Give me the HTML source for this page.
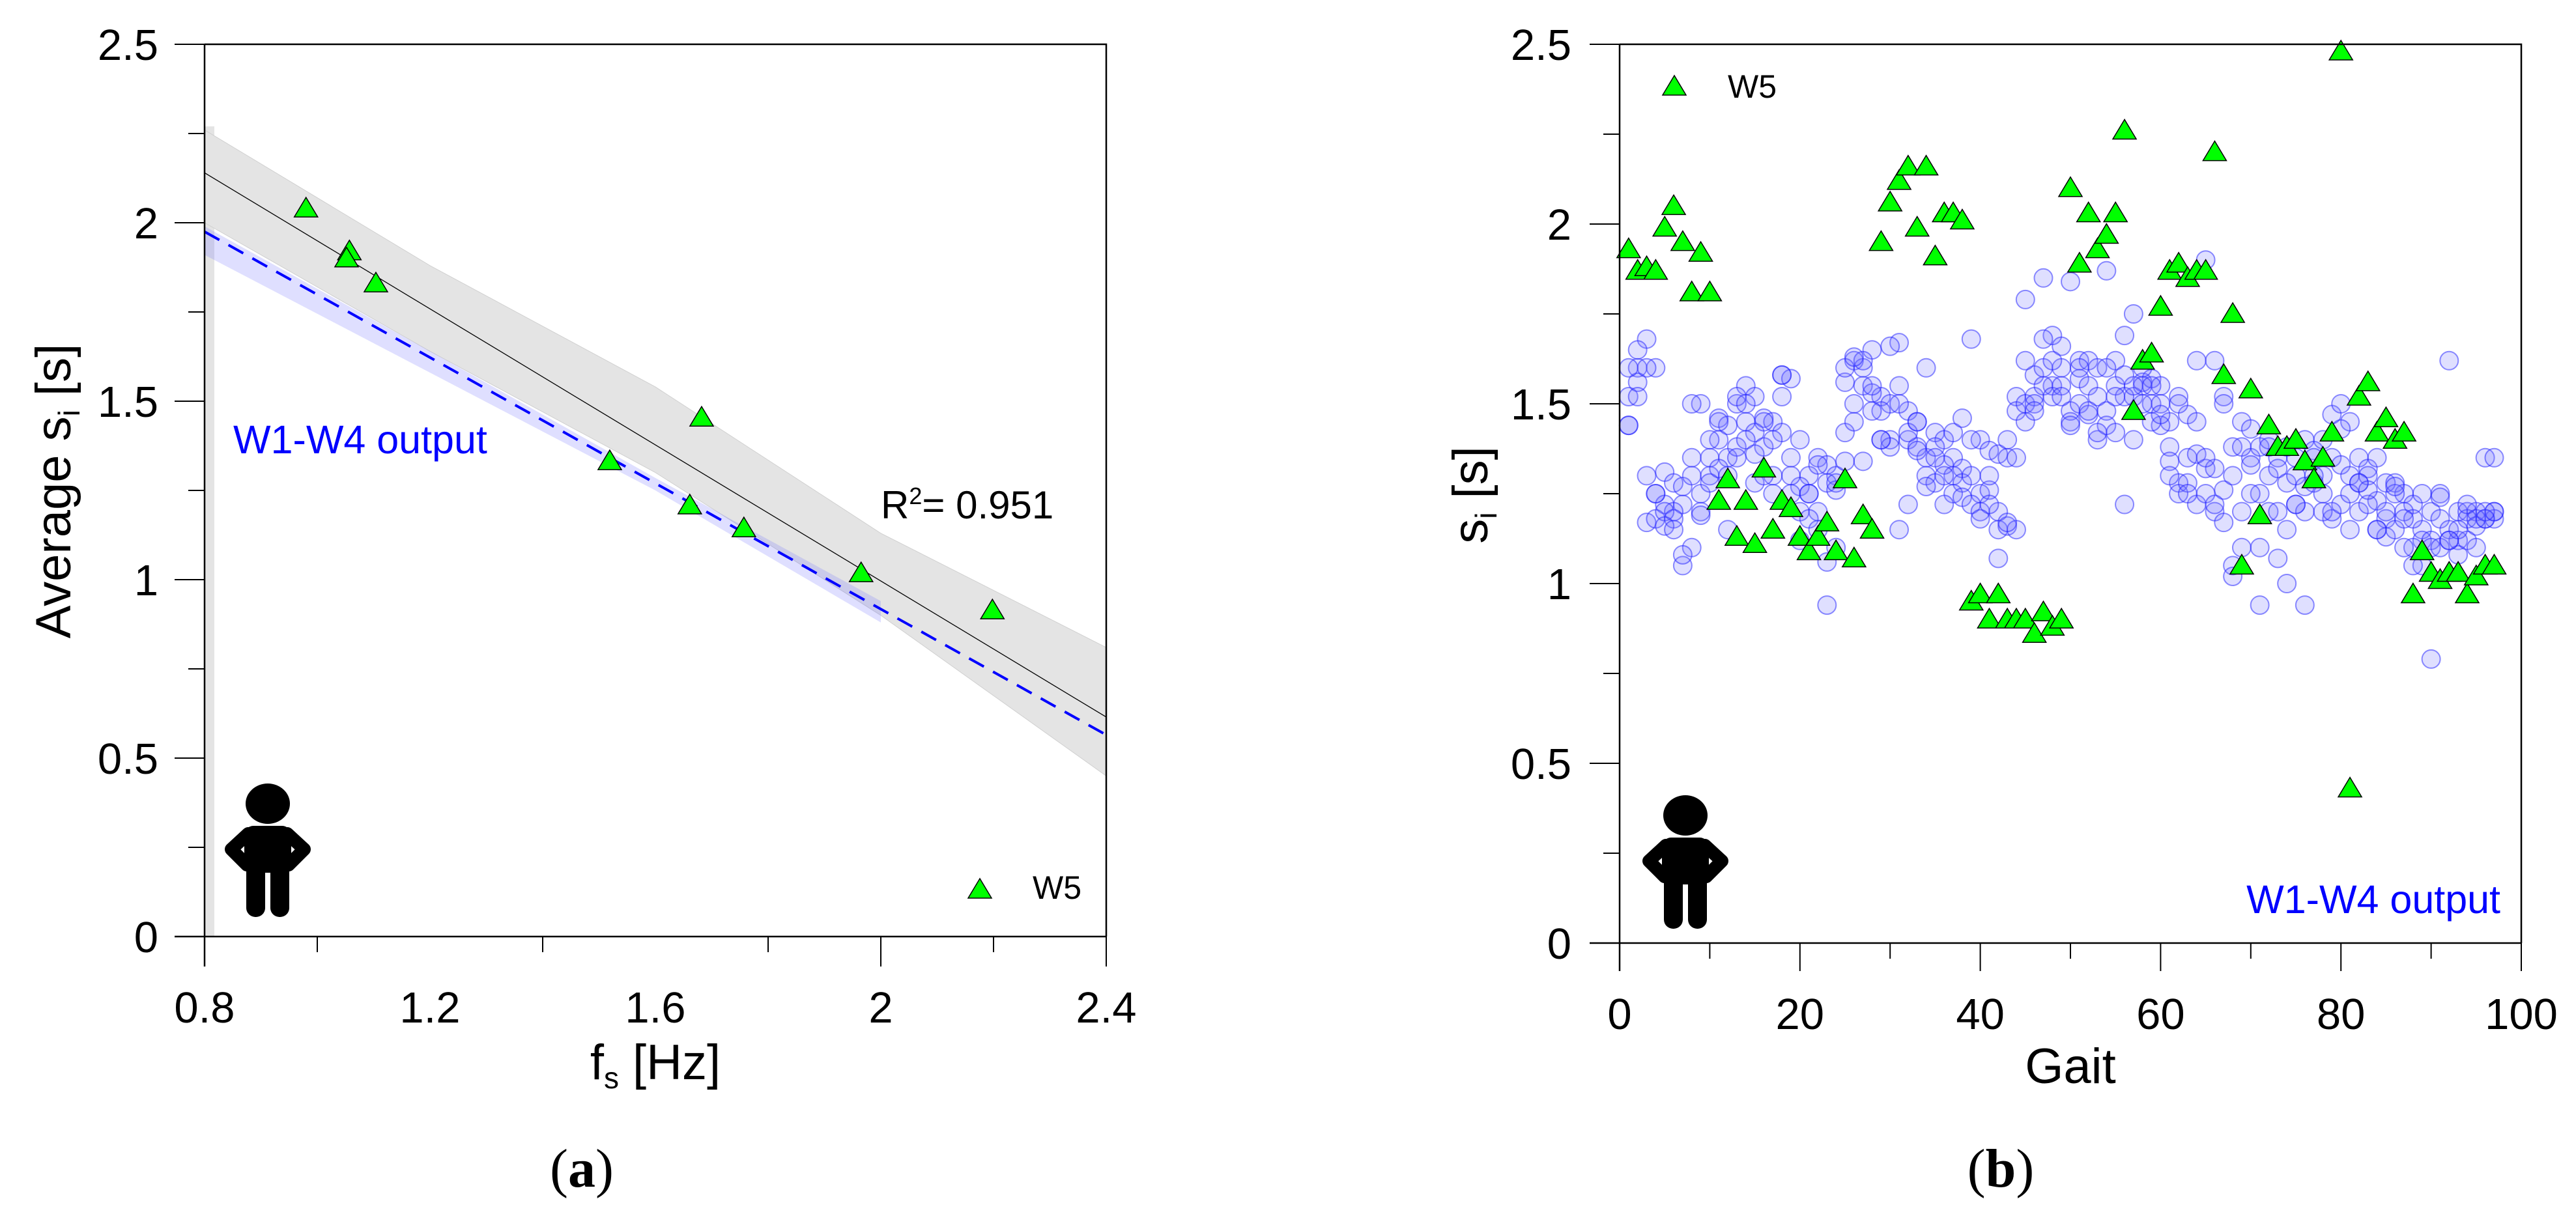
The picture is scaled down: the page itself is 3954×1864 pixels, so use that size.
<!DOCTYPE html>
<html><head><meta charset="utf-8"><style>
html,body{margin:0;padding:0;background:#fff}
svg{display:block;font-family:"Liberation Sans",Arial,sans-serif}
</style></head><body>
<svg id="fig" width="3954" height="1864" viewBox="0 0 3954 1864" xmlns="http://www.w3.org/2000/svg">
<g id="pa"></g>
<g id="pb"></g>
</svg>
<script>
// ---------- Panel (a) data ----------
const aFs = [0.98,1.057,1.052,1.104,1.519,1.682,1.661,1.757,1.965,2.198];
const aSi = [2.04,1.92,1.90,1.83,1.332,1.454,1.208,1.144,1.018,0.914];
const fitX = [0.8,2.4];
const fitY = [2.14,0.615];
const blueFitY = [1.975,0.565];
const bandX = [0.8,1.2,1.6,2.0,2.4];
const bandUpper = [2.26,1.88,1.54,1.13,0.81];
const bandLower = [2.00,1.64,1.30,0.90,0.45];
const blueBandX = [0.8,1.2,1.6,2.0];
const blueBandUpper = [1.99,1.64,1.285,0.94];
const blueBandLower = [1.91,1.58,1.25,0.88];
const aXTicks = ["0.8","1.2","1.6","2","2.4"];
const aYTicks = ["0","0.5","1","1.5","2","2.5"];
// ---------- Panel (b) data ----------
const w5 = [1.93,1.87,1.88,1.87,1.99,2.05,1.95,1.81,1.92,1.81,
1.23,1.29,1.13,1.23,1.11,1.32,1.15,1.23,1.21,1.13,
1.09,1.13,1.17,1.09,1.29,1.07,1.19,1.15,1.95,2.06,
2.12,2.16,1.99,2.16,1.91,2.03,2.03,2.01,0.95,0.97,
0.90,0.97,0.90,0.90,0.90,0.86,0.92,0.88,0.90,2.10,
1.89,2.03,1.93,1.97,2.03,2.26,1.48,1.62,1.64,1.77,
1.87,1.89,1.85,1.87,1.87,2.20,1.58,1.75,1.05,1.54,
1.19,1.44,1.38,1.38,1.40,1.34,1.29,1.35,1.42,2.48,
0.43,1.52,1.56,1.42,1.46,1.40,1.42,0.97,1.09,1.03,
1.01,1.03,1.03,0.97,1.02,1.05,1.05];
const wA = [1.52,1.60,1.68,1.60,1.31,1.28,1.22,1.35,1.50,1.35,
1.46,1.44,1.50,1.55,1.52,1.46,1.45,1.58,1.57,1.40,
1.30,1.35,1.33,1.30,1.56,1.62,1.60,1.65,1.52,1.50,
1.67,1.48,1.45,1.60,1.42,1.40,1.35,1.32,1.68,1.40,
1.37,1.36,1.40,1.52,1.79,1.58,1.85,1.69,1.66,1.84,
1.62,1.62,1.60,1.87,1.62,1.69,1.75,1.56,1.57,1.55,
1.45,1.52,1.47,1.45,1.90,1.62,1.52,1.38,1.45,1.35,
1.38,1.40,1.35,1.38,1.35,1.40,1.37,1.40,1.47,1.50,
1.45,1.35,1.32,1.35,1.28,1.28,1.25,1.22,1.15,1.20,
1.25,1.62,1.20,1.20,1.20,1.35,1.20];
const wB = [1.44,1.56,1.60,1.25,1.22,1.20,1.27,1.30,1.20,1.30,
1.40,1.35,1.38,1.45,1.42,1.38,1.30,1.52,1.35,1.27,
1.25,1.20,1.28,1.26,1.42,1.50,1.55,1.53,1.48,1.40,
1.55,1.40,1.38,1.35,1.38,1.33,1.30,1.28,1.30,1.25,
1.26,1.20,1.35,1.48,1.50,1.52,1.60,1.55,1.60,1.48,
1.57,1.55,1.52,1.48,1.55,1.58,1.52,1.55,1.50,1.44,
1.38,1.28,1.35,1.36,1.32,1.32,1.26,1.30,1.20,1.33,
1.25,1.30,1.32,1.28,1.30,1.27,1.28,1.30,1.35,1.33,
1.30,1.28,1.30,1.23,1.18,1.25,1.20,1.18,1.12,1.12,
1.18,1.15,1.12,1.18,1.16,1.18,1.18];
const wC = [1.60,1.52,1.17,1.18,1.20,1.18,1.05,1.10,1.25,1.28,
1.32,1.30,1.35,1.40,1.28,1.30,1.25,1.42,1.30,1.20,
1.18,1.15,0.94,1.10,1.34,1.45,1.62,1.48,1.40,1.38,
1.50,1.42,1.37,1.30,1.28,1.30,1.25,1.24,1.22,1.20,
1.22,1.15,1.16,1.15,1.45,1.50,1.55,1.52,1.55,1.45,
1.50,1.47,1.40,1.44,1.42,1.52,1.55,1.50,1.45,1.50,
1.34,1.25,1.28,1.22,1.25,1.20,1.17,1.05,1.10,1.25,
1.10,1.20,1.20,1.15,1.22,1.20,1.30,1.25,1.18,1.22,
1.25,1.20,1.22,1.15,1.13,1.15,1.18,1.10,1.05,1.10,
1.10,1.12,1.08,1.12,1.10,1.18,1.20];
const wD = [1.44,1.65,1.30,1.25,1.16,1.15,1.08,1.50,1.19,1.40,
1.45,1.15,1.52,1.50,1.36,1.45,1.40,1.58,1.25,1.12,
1.25,1.33,1.06,1.28,1.60,1.63,1.34,1.55,1.40,1.66,
1.15,1.22,1.45,1.27,1.35,1.22,1.42,1.46,1.40,1.18,
1.30,1.07,1.17,1.35,1.62,1.48,1.68,1.62,1.52,1.44,
1.60,1.48,1.42,1.60,1.52,1.22,1.40,1.60,1.55,1.47,
1.30,1.50,1.25,1.62,1.35,1.22,1.50,1.02,1.38,1.43,
0.94,1.38,1.07,1.00,1.22,0.94,1.35,1.20,1.20,1.43,
1.15,1.28,1.26,1.15,1.20,1.27,1.10,1.05,1.25,0.79,
1.24,1.12,1.15,1.22,1.18,1.20,1.35];
const bXTicks = ["0","20","40","60","80","100"];
const bYTicks = ["0","0.5","1","1.5","2","2.5"];

const NS="http://www.w3.org/2000/svg";
function mk(parent,tag,attrs,text){const e=document.createElementNS(NS,tag);for(const k in attrs)e.setAttribute(k,attrs[k]);if(text!==undefined)e.textContent=text;parent.appendChild(e);return e;}

const xA=v=>314+(v-0.8)/1.6*1384, yA=v=>1438-v*548;
const xB=v=>2486+v*13.84, yB=v=>1448-v*552;

function tri(parent,cx,cy,name){
  const p=mk(parent,'polygon',{points:`${cx},${cy-17} ${cx-18},${cy+13} ${cx+18},${cy+13}`,fill:'#00ff00',stroke:'#000','stroke-width':1.5});
  
  
}
function person(parent,cx,t,name){
  const g=mk(parent,'g',{fill:'#000'});
  
  
  mk(g,'ellipse',{cx:cx,cy:t+32,rx:34,ry:31});
  mk(g,'rect',{x:cx-36,y:t+66,width:72,height:72,rx:14});
  mk(g,'path',{d:`M${cx-30},${t+78} L${cx-56},${t+102} L${cx-32},${t+126} M${cx+30},${t+78} L${cx+56},${t+102} L${cx+32},${t+126}`,fill:'none',stroke:'#000','stroke-width':20,'stroke-linejoin':'round','stroke-linecap':'round'});
  mk(g,'rect',{x:cx-33,y:t+118,width:29,height:88,rx:14});
  mk(g,'rect',{x:cx+4,y:t+118,width:29,height:88,rx:14});
}

// ---------- Panel A ----------
const pa=document.getElementById('pa');
let e;
e=mk(pa,'rect',{x:314,y:yA(2.27),width:15,height:yA(0)-yA(2.27),fill:'#e4e4e4'});


let pts=bandX.map((v,i)=>`${xA(v)},${yA(bandUpper[i])}`).concat(bandX.map((v,i)=>`${xA(v)},${yA(bandLower[i])}`).reverse());
e=mk(pa,'polygon',{points:pts.join(' '),fill:'#e4e4e4',stroke:'#d0d0d0','stroke-width':1});


pts=blueBandX.map((v,i)=>`${xA(v)},${yA(blueBandUpper[i])}`).concat(blueBandX.map((v,i)=>`${xA(v)},${yA(blueBandLower[i])}`).reverse());
e=mk(pa,'polygon',{points:pts.join(' '),fill:'rgba(110,110,255,0.22)'});


e=mk(pa,'line',{x1:xA(fitX[0]),y1:yA(fitY[0]),x2:xA(fitX[1]),y2:yA(fitY[1]),stroke:'#000','stroke-width':1.3});


e=mk(pa,'line',{x1:xA(fitX[0]),y1:yA(blueFitY[0]),x2:xA(fitX[1]),y2:yA(blueFitY[1]),stroke:'#0000ff','stroke-width':4,'stroke-dasharray':'26,16'});


aFs.forEach((v,i)=>tri(pa,xA(v),yA(aSi[i]),'w5-point'));
e=mk(pa,'path',{d:`M314,68 H1698 V1438 M314,68 V1484 M268,1438 H1698`,fill:'none',stroke:'#000','stroke-width':2.5});


aYTicks.forEach((t,i)=>{
  const v=i*0.5,y=yA(v);
  mk(pa,'line',{x1:268,y1:y,x2:314,y2:y,stroke:'#000','stroke-width':2});
  if(i<5) mk(pa,'line',{x1:289,y1:yA(v+0.25),x2:314,y2:yA(v+0.25),stroke:'#000','stroke-width':2});
  e=mk(pa,'text',{x:243,y:y+24,'font-size':67,'text-anchor':'end'},t);
  
  
});
[1.0,1.4,1.8,2.2].forEach(v=>mk(pa,'line',{x1:xA(v),y1:1438,x2:xA(v),y2:1462,stroke:'#000','stroke-width':2}));
[2.0,2.4].forEach(v=>mk(pa,'line',{x1:xA(v),y1:1438,x2:xA(v),y2:1484,stroke:'#000','stroke-width':2}));
aXTicks.forEach(t=>{
  e=mk(pa,'text',{x:xA(parseFloat(t)),y:1570,'font-size':67,'text-anchor':'middle'},t);
  
  
});
e=mk(pa,'text',{x:0,y:0,'font-size':76,'text-anchor':'middle',transform:'translate(108,754) rotate(-90)'});


e.innerHTML='Average s<tspan font-size="46" dy="14">i</tspan><tspan dy="-14"> [s]</tspan>';
e=mk(pa,'text',{x:1006,y:1657,'font-size':76,'text-anchor':'middle'});


e.innerHTML='f<tspan font-size="46" dy="14">s</tspan><tspan dy="-14"> [Hz]</tspan>';
e=mk(pa,'text',{x:358,y:696,'font-size':61,fill:'#0000ff'},'W1-W4 output');


e=mk(pa,'text',{x:1352,y:796,'font-size':60});


e.innerHTML='R<tspan font-size="36" dy="-22">2</tspan><tspan dy="22">= 0.951</tspan>';
tri(pa,1504,1366,'legend-w5-marker');
e=mk(pa,'text',{x:1585,y:1380,'font-size':50},'W5');


person(pa,411,1202,'person-icon-a');
e=mk(pa,'text',{x:893,y:1822,'font-size':84,'text-anchor':'middle','font-family':'Liberation Serif, serif'});


e.innerHTML='(<tspan font-weight="bold">a</tspan>)';

// ---------- Panel B ----------
const pb=document.getElementById('pb');
[wA,wB,wC,wD].forEach(arr=>arr.forEach((v,i)=>{
  const c=mk(pb,'circle',{cx:xB(i+1),cy:yB(v),r:14,fill:'rgba(110,110,255,0.22)',stroke:'rgba(30,30,255,0.5)','stroke-width':2});
  
  
}));
w5.forEach((v,i)=>tri(pb,xB(i+1),yB(v),'w5-point'));
e=mk(pb,'path',{d:`M2486,68 H3870 V1448 M2486,68 V1491 M2440,1448 H3870`,fill:'none',stroke:'#000','stroke-width':2.5});


bYTicks.forEach((t,i)=>{
  const v=i*0.5,y=yB(v);
  mk(pb,'line',{x1:2440,y1:y,x2:2486,y2:y,stroke:'#000','stroke-width':2});
  if(i<5) mk(pb,'line',{x1:2461,y1:yB(v+0.25),x2:2486,y2:yB(v+0.25),stroke:'#000','stroke-width':2});
  e=mk(pb,'text',{x:2412,y:y+24,'font-size':67,'text-anchor':'end'},t);
  
  
});
[10,30,50,70,90].forEach(v=>mk(pb,'line',{x1:xB(v),y1:1448,x2:xB(v),y2:1472,stroke:'#000','stroke-width':2}));
[20,40,60,80,100].forEach(v=>mk(pb,'line',{x1:xB(v),y1:1448,x2:xB(v),y2:1491,stroke:'#000','stroke-width':2}));
bXTicks.forEach(t=>{
  e=mk(pb,'text',{x:xB(parseFloat(t)),y:1580,'font-size':67,'text-anchor':'middle'},t);
  
  
});
e=mk(pb,'text',{x:0,y:0,'font-size':76,'text-anchor':'middle',transform:'translate(2283,760) rotate(-90)'});


e.innerHTML='s<tspan font-size="46" dy="14">i</tspan><tspan dy="-14"> [s]</tspan>';
e=mk(pb,'text',{x:3178,y:1663,'font-size':76,'text-anchor':'middle'},'Gait');


tri(pb,2570,133,'legend-w5-marker');
e=mk(pb,'text',{x:2652,y:150,'font-size':50},'W5');


e=mk(pb,'text',{x:3838,y:1402,'font-size':61,fill:'#0000ff','text-anchor':'end'},'W1-W4 output');


person(pb,2587,1220,'person-icon-b');
e=mk(pb,'text',{x:3071,y:1822,'font-size':84,'text-anchor':'middle','font-family':'Liberation Serif, serif'});


e.innerHTML='(<tspan font-weight="bold">b</tspan>)';
</script>
</body></html>
